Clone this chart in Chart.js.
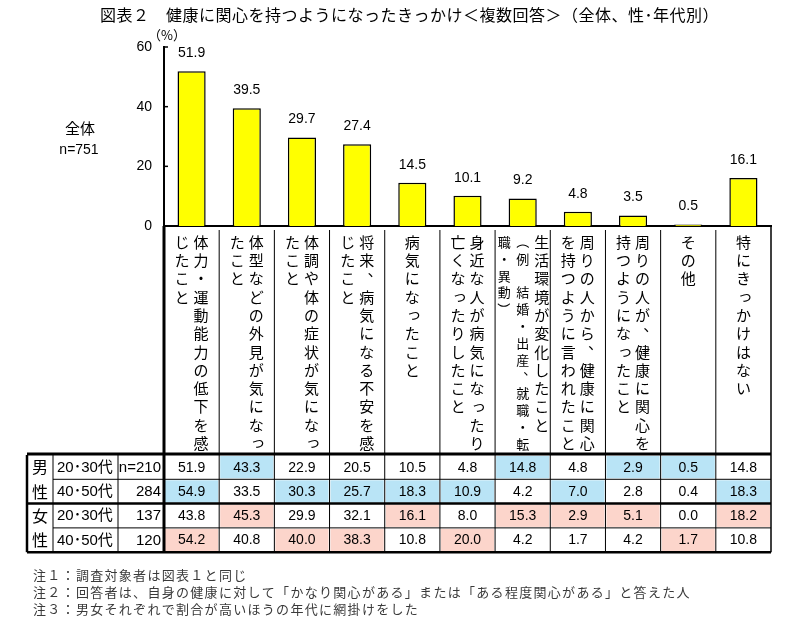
<!DOCTYPE html>
<html>
<head>
<meta charset="utf-8">
<script src="https://cdn.jsdelivr.net/npm/chart.js@4/dist/chart.umd.min.js"></script>
<style>
  html, body { margin: 0; padding: 0; background: #fff; }
  canvas { display: block; }
</style>
</head>
<body>
<canvas id="chart" width="799" height="632"></canvas>
<script>
// --- DATA ---
const labelColumns = [
    ['体力・運動能力の低下を感', 'じたこと'],
    ['体型などの外見が気になっ', 'たこと'],
    ['体調や体の症状が気になっ', 'たこと'],
    ['将来、病気になる不安を感', 'じたこと'],
    ['病気になったこと'],
    ['身近な人が病気になったり', '亡くなったりしたこと'],
    ['生活環境が変化したこと', '（例　結婚・出産、就職・転', '職・異動）'],
    ['周りの人から、健康に関心', 'を持つように言われたこと'],
    ['周りの人が、健康に関心を', '持つようになったこと'],
    ['その他'],
    ['特にきっかけはない']
];
const overall = [51.9, 39.5, 29.7, 27.4, 14.5, 10.1, 9.2, 4.8, 3.5, 0.5, 16.1];
const male2030 = [51.9, 43.3, 22.9, 20.5, 10.5, 4.8, 14.8, 4.8, 2.9, 0.5, 14.8];
const male4050 = [54.9, 33.5, 30.3, 25.7, 18.3, 10.9, 4.2, 7.0, 2.8, 0.4, 18.3];
const female2030 = [43.8, 45.3, 29.9, 32.1, 16.1, 8.0, 15.3, 2.9, 5.1, 0.0, 18.2];
const female4050 = [54.2, 40.8, 40.0, 38.3, 10.8, 20.0, 4.2, 1.7, 4.2, 1.7, 10.8];
const yTicks = [0, 20, 40, 60];
const sexLabels = ['男性', '女性'];
const ageLabels = ['20･30代', '40･50代', '20･30代', '40･50代'];
const sampleSizes = ['n=210', '284', '137', '120'];
const titleText = '図表２　健康に関心を持つようになったきっかけ＜複数回答＞（全体、性･年代別）';
const notes = [
    '注１：調査対象者は図表１と同じ',
    '注２：回答者は、自身の健康に対して「かなり関心がある」または「ある程度関心がある」と答えた人',
    '注３：男女それぞれで割合が高いほうの年代に網掛けをした'
];

// --- STYLE ---
const JP = '"Noto Sans CJK JP", sans-serif';
const LAT = '"Liberation Sans", "Noto Sans CJK JP", sans-serif';
const BLUE = '#b9e4f6';
const PINK = '#fcd5cb';
const SMALL_KANA = 'ぁぃぅぇぉっゃゅょァィゥェォッャュョ';
const ROTATED = '（）「」ー';

function line(ctx, x1, y1, x2, y2, w) {
    ctx.beginPath();
    ctx.lineWidth = w;
    ctx.moveTo(x1, y1);
    ctx.lineTo(x2, y2);
    ctx.stroke();
}

function drawVertical(ctx, text, x, y0, pitch, size) {
    [...text].forEach((ch, i) => {
        if (ch === '　') return;
        ctx.save();
        ctx.translate(x, y0 + i * pitch);
        if (ch === '、' || ch === '。') ctx.translate(size * 0.55, -size * 0.55);
        else if (SMALL_KANA.includes(ch)) ctx.translate(size * 0.12, -size * 0.12);
        else if (ROTATED.includes(ch)) ctx.rotate(Math.PI / 2);
        ctx.fillText(ch, 0, 0);
        ctx.restore();
    });
}

// value labels above bars
const valueLabels = {
    id: 'valueLabels',
    afterDatasetsDraw(chart) {
        const ctx = chart.ctx;
        ctx.save();
        ctx.font = '14px ' + LAT;
        ctx.fillStyle = '#000';
        ctx.textAlign = 'center';
        ctx.textBaseline = 'middle';
        chart.getDatasetMeta(0).data.forEach((bar, i) => {
            ctx.fillText(overall[i].toFixed(1), bar.x, bar.y - 18);
        });
        ctx.restore();
    }
};

// texts, axis ticks, label area and table
const decorations = {
    id: 'decorations',
    afterDraw(chart) {
        const ctx = chart.ctx;
        const xs = chart.scales.x;
        const ys = chart.scales.y;
        const n = labelColumns.length;
        const centers = labelColumns.map((_, i) => xs.getPixelForValue(i));
        const step = centers[1] - centers[0];
        const edges = centers.map(c => c - step / 2).concat([centers[n - 1] + step / 2]);
        const left = xs.left, right = edges[n];
        const labelTop = ys.bottom, tableTop = 455, rowH = 24.3;
        const tableBottom = tableTop + rowH * 4;
        const tableLeft = 27, col1 = 53, col2 = 118;

        ctx.save();
        ctx.fillStyle = '#000';
        ctx.strokeStyle = '#000';
        ctx.textBaseline = 'middle';

        // title and side texts
        ctx.font = '16px ' + JP;
        ctx.textAlign = 'left';
        ctx.letterSpacing = '0.5px';
        ctx.fillText(titleText, 100, 15);
        ctx.letterSpacing = '0px';
        ctx.textAlign = 'center';
        ctx.font = '13px ' + JP;
        ctx.fillText('（%）', 167, 35);
        ctx.font = '15px ' + JP;
        ctx.fillText('全体', 80, 128);
        ctx.font = '14px ' + LAT;
        ctx.fillText('n=751', 79, 150);

        // inner tick marks on y axis
        yTicks.forEach(v => line(ctx, left, ys.getPixelForValue(v), left + 4, ys.getPixelForValue(v), 1.5));

        // shading of the higher age group
        const rows = [male2030, male4050, female2030, female4050];
        for (let i = 0; i < n; i++) {
            [[0, 1, BLUE], [2, 3, PINK]].forEach(([a, b, color]) => {
                const hi = rows[a][i] > rows[b][i] ? a : b;
                ctx.fillStyle = color;
                ctx.fillRect(edges[i] + 1, tableTop + hi * rowH + 1, step - 2, rowH - 2);
            });
        }
        ctx.fillStyle = '#000';

        // vertical category labels
        labelColumns.forEach((cols, i) => {
            const k = cols.length;
            const gap = 19;
            cols.forEach((text, j) => {
                const small = k > 2 && j > 0;
                const size = small ? 13 : 15;
                ctx.font = size + 'px ' + JP;
                const x = centers[i] + ((k - 1) / 2 - j) * (small ? 18.5 : gap);
                drawVertical(ctx, text, x, 242, small ? 16.8 : 18.3, size);
            });
        });

        // table values
        ctx.font = '14px ' + LAT;
        rows.forEach((row, r) => {
            const cy = tableTop + r * rowH + rowH / 2 + 0.5;
            row.forEach((v, i) => ctx.fillText(v.toFixed(1), centers[i], cy));
            ctx.textAlign = 'left';
            ctx.font = '15px ' + LAT;
            ctx.fillText(ageLabels[r], col1 + 4, cy);
            ctx.textAlign = 'right';
            ctx.font = '15px ' + LAT;
            ctx.fillText(sampleSizes[r], left - 3, cy);
            ctx.textAlign = 'center';
            ctx.font = '14px ' + LAT;
        });
        ctx.font = '16px ' + JP;
        sexLabels.forEach((s, g) => {
            const top = tableTop + g * 2 * rowH;
            ctx.fillText(s[0], (tableLeft + col1) / 2, top + rowH * 0.5);
            ctx.fillText(s[1], (tableLeft + col1) / 2, top + rowH * 1.5);
        });

        // grid lines
        for (let i = 1; i < n; i++) line(ctx, edges[i], labelTop + 4, edges[i], tableBottom, 1);
        line(ctx, right, labelTop, right, tableBottom, 1.5);
        line(ctx, left, labelTop, left, tableBottom, 3);
        line(ctx, tableLeft, tableTop, tableLeft, tableBottom, 2.5);
        line(ctx, col1, tableTop, col1, tableBottom, 1);
        line(ctx, col2, tableTop, col2, tableBottom, 1);
        line(ctx, tableLeft, tableTop - 1, right, tableTop - 1, 3);
        line(ctx, col1, tableTop + rowH, right, tableTop + rowH, 1);
        line(ctx, tableLeft, tableTop + rowH * 2, right, tableTop + rowH * 2, 2.5);
        line(ctx, col1, tableTop + rowH * 3, right, tableTop + rowH * 3, 1);
        line(ctx, tableLeft, tableBottom, right, tableBottom, 2.5);

        // notes
        ctx.fillStyle = '#3a3a3a';
        ctx.textAlign = 'left';
        ctx.font = '13px ' + JP;
        ctx.letterSpacing = '1.3px';
        notes.forEach((t, i) => ctx.fillText(t, 33, 575 + i * 17));
        ctx.restore();
    }
};

// --- CHART ---
new Chart(document.getElementById('chart').getContext('2d'), {
    type: 'bar',
    data: {
        labels: labelColumns.map(c => c.join('')),
        datasets: [{
            data: overall,
            backgroundColor: '#ffff00',
            borderColor: '#000',
            borderWidth: 1.5,
            barPercentage: 0.51,
            categoryPercentage: 1
        }]
    },
    options: {
        responsive: false,
        animation: false,
        devicePixelRatio: 1,
        layout: { padding: { left: 124, right: 28, top: 47, bottom: 406 } },
        plugins: { legend: { display: false }, tooltip: { enabled: false } },
        scales: {
            x: {
                grid: { display: false },
                ticks: { display: false },
                border: { color: '#000', width: 2 },
                afterFit(scale) { scale.height = 0; }
            },
            y: {
                min: 0,
                max: 60,
                ticks: { stepSize: 20, padding: 12, color: '#000', font: { family: LAT, size: 14 } },
                grid: { display: false, drawTicks: false },
                border: { color: '#000', width: 2 },
                afterFit(scale) { scale.width = 40; }
            }
        }
    },
    plugins: [valueLabels, decorations]
});
</script>
</body>
</html>
